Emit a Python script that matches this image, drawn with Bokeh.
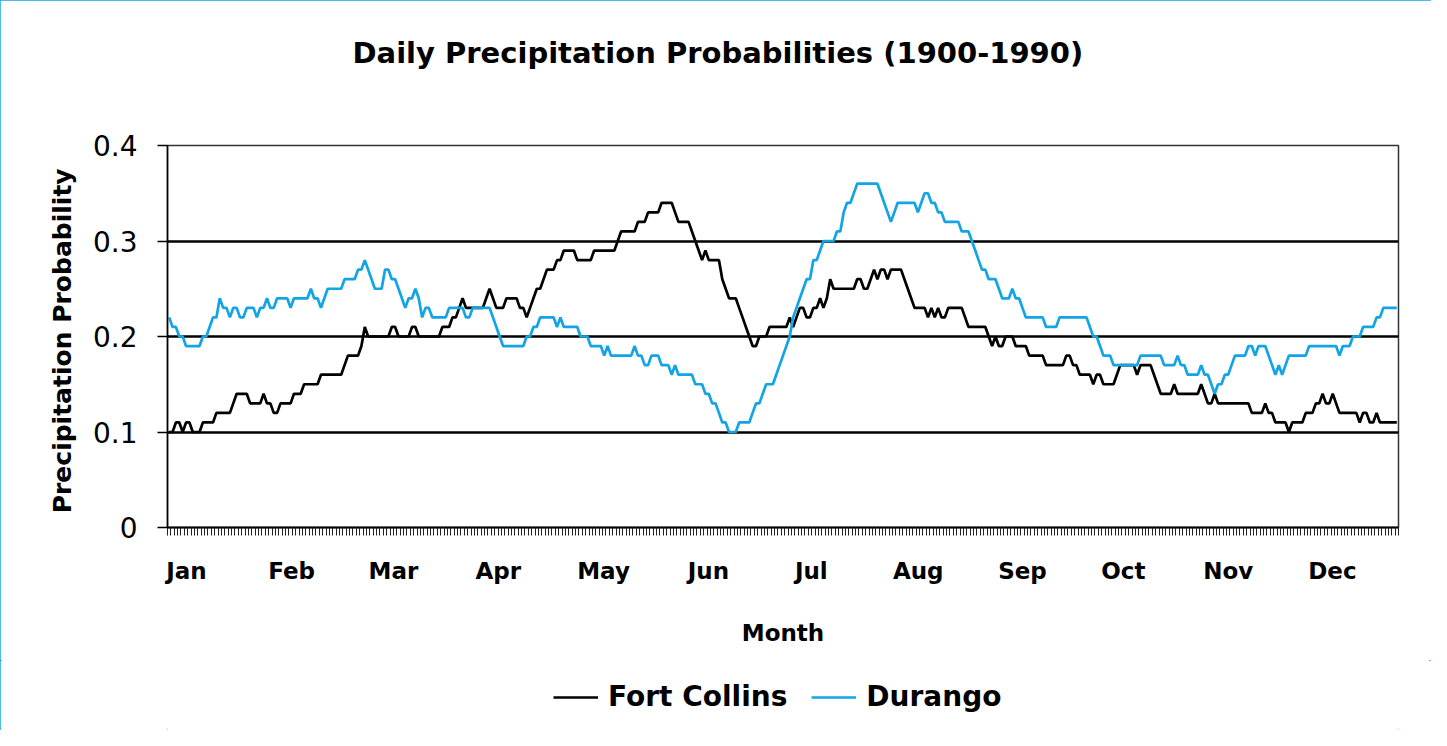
from bokeh.plotting import figure
from bokeh.layouts import column
from bokeh.models import (Range1d, FixedTicker, CustomJSTickFormatter, Legend,
                          LegendItem, Title)
from bokeh.embed import file_html
from bokeh.resources import INLINE

# ---- data (daily values) ----
fort_collins = [
    0.10,0.10,0.11,0.11,0.10,0.11,0.11,0.10,0.10,0.10,
    0.11,0.11,0.11,0.11,0.12,0.12,0.12,0.12,0.12,0.13,
    0.14,0.14,0.14,0.14,0.13,0.13,0.13,0.13,0.14,0.13,
    0.13,0.12,0.12,0.13,0.13,0.13,0.13,0.14,0.14,0.14,
    0.15,0.15,0.15,0.15,0.15,0.16,0.16,0.16,0.16,0.16,
    0.16,0.16,0.17,0.18,0.18,0.18,0.18,0.19,0.21,0.20,
    0.20,0.20,0.20,0.20,0.20,0.20,0.21,0.21,0.20,0.20,
    0.20,0.20,0.21,0.21,0.20,0.20,0.20,0.20,0.20,0.20,
    0.20,0.21,0.21,0.21,0.22,0.22,0.23,0.24,0.23,0.23,
    0.23,0.23,0.23,0.23,0.24,0.25,0.24,0.23,0.23,0.23,
    0.24,0.24,0.24,0.24,0.23,0.23,0.22,0.23,0.24,0.25,
    0.25,0.26,0.27,0.27,0.27,0.28,0.28,0.29,0.29,0.29,
    0.29,0.28,0.28,0.28,0.28,0.28,0.29,0.29,0.29,0.29,
    0.29,0.29,0.29,0.30,0.31,0.31,0.31,0.31,0.31,0.32,
    0.32,0.32,0.33,0.33,0.33,0.33,0.34,0.34,0.34,0.34,
    0.33,0.32,0.32,0.32,0.32,0.31,0.30,0.29,0.28,0.29,
    0.28,0.28,0.28,0.28,0.26,0.25,0.24,0.24,0.24,0.23,
    0.22,0.21,0.20,0.19,0.19,0.20,0.20,0.20,0.21,0.21,
    0.21,0.21,0.21,0.21,0.22,0.21,0.22,0.23,0.23,0.22,
    0.22,0.23,0.23,0.24,0.23,0.24,0.26,0.25,0.25,0.25,
    0.25,0.25,0.25,0.25,0.26,0.26,0.25,0.25,0.26,0.27,
    0.26,0.27,0.27,0.26,0.27,0.27,0.27,0.27,0.26,0.25,
    0.24,0.23,0.23,0.23,0.23,0.22,0.23,0.22,0.23,0.22,
    0.22,0.23,0.23,0.23,0.23,0.23,0.22,0.21,0.21,0.21,
    0.21,0.21,0.21,0.20,0.19,0.20,0.19,0.19,0.20,0.20,
    0.20,0.19,0.19,0.19,0.19,0.18,0.18,0.18,0.18,0.18,
    0.17,0.17,0.17,0.17,0.17,0.17,0.18,0.18,0.17,0.17,
    0.16,0.16,0.16,0.16,0.15,0.16,0.16,0.15,0.15,0.15,
    0.15,0.16,0.17,0.17,0.17,0.17,0.17,0.16,0.17,0.17,
    0.17,0.17,0.16,0.15,0.14,0.14,0.14,0.14,0.15,0.14,
    0.14,0.14,0.14,0.14,0.14,0.14,0.15,0.14,0.13,0.13,
    0.14,0.13,0.13,0.13,0.13,0.13,0.13,0.13,0.13,0.13,
    0.13,0.12,0.12,0.12,0.12,0.13,0.12,0.12,0.11,0.11,
    0.11,0.11,0.10,0.11,0.11,0.11,0.11,0.12,0.12,0.12,
    0.13,0.13,0.14,0.13,0.13,0.14,0.13,0.12,0.12,0.12,
    0.12,0.12,0.12,0.11,0.12,0.12,0.11,0.11,0.12,0.11,
    0.11,0.11,0.11,0.11,0.11,
]

durango = [
    0.22,0.21,0.21,0.20,0.20,0.19,0.19,0.19,0.19,0.19,
    0.20,0.20,0.21,0.22,0.22,0.24,0.23,0.23,0.22,0.23,
    0.23,0.22,0.22,0.23,0.23,0.23,0.22,0.23,0.23,0.24,
    0.23,0.23,0.24,0.24,0.24,0.24,0.23,0.24,0.24,0.24,
    0.24,0.24,0.25,0.24,0.24,0.23,0.24,0.25,0.25,0.25,
    0.25,0.25,0.26,0.26,0.26,0.26,0.27,0.27,0.28,0.27,
    0.26,0.25,0.25,0.25,0.27,0.27,0.26,0.26,0.25,0.24,
    0.23,0.24,0.24,0.25,0.24,0.22,0.23,0.23,0.22,0.22,
    0.22,0.22,0.22,0.23,0.23,0.23,0.23,0.23,0.22,0.22,
    0.23,0.23,0.23,0.23,0.23,0.23,0.22,0.21,0.20,0.19,
    0.19,0.19,0.19,0.19,0.19,0.19,0.20,0.20,0.21,0.21,
    0.22,0.22,0.22,0.22,0.22,0.21,0.22,0.21,0.21,0.21,
    0.21,0.21,0.20,0.20,0.20,0.19,0.19,0.19,0.19,0.18,
    0.19,0.18,0.18,0.18,0.18,0.18,0.18,0.18,0.19,0.18,
    0.18,0.17,0.17,0.18,0.18,0.18,0.17,0.17,0.17,0.16,
    0.17,0.16,0.16,0.16,0.16,0.16,0.15,0.15,0.15,0.14,
    0.14,0.13,0.13,0.12,0.11,0.11,0.10,0.10,0.10,0.11,
    0.11,0.11,0.11,0.12,0.13,0.13,0.14,0.15,0.15,0.15,
    0.16,0.17,0.18,0.19,0.20,0.22,0.23,0.24,0.25,0.26,
    0.26,0.28,0.28,0.29,0.30,0.30,0.30,0.30,0.31,0.31,
    0.33,0.34,0.34,0.35,0.36,0.36,0.36,0.36,0.36,0.36,
    0.36,0.35,0.34,0.33,0.32,0.33,0.34,0.34,0.34,0.34,
    0.34,0.34,0.33,0.34,0.35,0.35,0.34,0.34,0.33,0.33,
    0.32,0.32,0.32,0.32,0.32,0.31,0.31,0.31,0.30,0.29,
    0.28,0.27,0.27,0.26,0.26,0.26,0.25,0.24,0.24,0.24,
    0.25,0.24,0.24,0.23,0.22,0.22,0.22,0.22,0.22,0.22,
    0.21,0.21,0.21,0.21,0.22,0.22,0.22,0.22,0.22,0.22,
    0.22,0.22,0.22,0.21,0.20,0.20,0.19,0.18,0.18,0.18,
    0.17,0.17,0.17,0.17,0.17,0.17,0.17,0.17,0.18,0.18,
    0.18,0.18,0.18,0.18,0.18,0.17,0.17,0.17,0.17,0.18,
    0.17,0.17,0.16,0.16,0.16,0.16,0.17,0.16,0.16,0.15,
    0.14,0.15,0.15,0.16,0.16,0.17,0.18,0.18,0.18,0.18,
    0.19,0.19,0.18,0.19,0.19,0.19,0.18,0.17,0.16,0.17,
    0.16,0.17,0.18,0.18,0.18,0.18,0.18,0.18,0.19,0.19,
    0.19,0.19,0.19,0.19,0.19,0.19,0.19,0.18,0.19,0.19,
    0.19,0.20,0.20,0.20,0.21,0.21,0.21,0.21,0.22,0.22,
    0.23,0.23,0.23,0.23,0.23,
]

months = ["Jan", "Feb", "Mar", "Apr", "May", "Jun",
          "Jul", "Aug", "Sep", "Oct", "Nov", "Dec"]
month_label_pos = [5.6, 36.8, 67.0, 98.1, 129.3, 160.4,
                   190.9, 222.6, 253.5, 283.4, 314.5, 345.4]
y_ticks = [0, 0.1, 0.2, 0.3, 0.4]
series_names = ["Fort Collins", "Durango"]
n_days = 365

BLUE = "#12a4e4"
FONT = "DejaVu Sans"
W = 1431

p = figure(width=W, height=660, output_backend="svg", toolbar_location=None,
           title=None,
           x_range=Range1d(0, n_days), y_range=Range1d(0, 0.4),
           min_border_left=167, min_border_right=33, min_border_top=145,
           min_border_bottom=133)
p.background_fill_color = "white"
p.border_fill_color = "white"
p.outline_line_color = "#333333"
p.outline_line_width = 1.5

x_fc = [i + 0.5 for i in range(len(fort_collins))]
x_du = [i + 0.5 for i in range(len(durango))]
p.line(x_fc, fort_collins, line_color="black", line_width=2.7)
p.line(x_du, durango, line_color=BLUE, line_width=2.7)

# grid
p.xgrid.visible = False
p.ygrid.ticker = FixedTicker(ticks=[0.1, 0.2, 0.3, 0.4])
p.ygrid.grid_line_color = "black"
p.ygrid.grid_line_width = 2.5
p.ygrid.level = "underlay"

# x axis
xa = p.xaxis[0]
xa.ticker = FixedTicker(ticks=month_label_pos, minor_ticks=list(range(n_days + 1)))
xa.major_label_overrides = {pos: m for pos, m in zip(month_label_pos, months)}
xa.major_tick_line_color = None
xa.major_tick_out = 0
xa.major_tick_in = 0
xa.minor_tick_out = 8
xa.minor_tick_in = 0
xa.minor_tick_line_color = "#222222"
xa.minor_tick_line_width = 1
xa.axis_line_width = 2
xa.axis_line_color = "black"
xa.major_label_text_font = FONT
xa.major_label_text_font_style = "bold"
xa.major_label_text_font_size = "23px"
xa.major_label_text_color = "black"
xa.major_label_standoff = 22
xa.axis_label = "Month"
xa.axis_label_text_font = FONT
xa.axis_label_text_font_style = "bold"
xa.axis_label_text_font_size = "23px"
xa.axis_label_text_color = "black"
xa.axis_label_standoff = 33

# y axis
ya = p.yaxis[0]
ya.ticker = FixedTicker(ticks=y_ticks)
ya.formatter = CustomJSTickFormatter(code="return tick === 0 ? '0' : tick.toFixed(1);")
ya.major_tick_out = 10
ya.major_tick_in = 0
ya.major_tick_line_width = 1.5
ya.major_tick_line_color = "black"
ya.minor_tick_line_color = None
ya.axis_line_width = 1.5
ya.axis_line_color = "black"
ya.major_label_text_font = FONT
ya.major_label_text_font_size = "28px"
ya.major_label_text_color = "black"
ya.major_label_standoff = 20
ya.axis_label = "Precipitation  Probability"
ya.axis_label_text_font = FONT
ya.axis_label_text_font_style = "bold"
ya.axis_label_text_font_size = "25px"
ya.axis_label_text_color = "black"
ya.axis_label_standoff = 13

# title: a blank spacer title next to the frame, then the real title above it
p.add_layout(Title(text=" ", text_font=FONT, text_font_size="28px", standoff=36), "above")
p.add_layout(Title(text="Daily Precipitation Probabilities (1900-1990)",
                   text_font=FONT, text_font_style="bold", text_font_size="29px",
                   text_color="black", align="left", offset=185, standoff=10), "above")

# legend strip (separate small figure under the chart). The series are drawn
# again here only so the legend has real renderers; its ranges keep them out of view.
pl = figure(width=W, height=70, output_backend="svg", toolbar_location=None,
            title=None, x_axis_type=None, y_axis_type=None,
            x_range=Range1d(-20, -10), y_range=Range1d(0, 0.4),
            min_border_left=0, min_border_right=0, min_border_top=0,
            min_border_bottom=0)
pl.outline_line_color = None
pl.background_fill_color = "white"
pl.border_fill_color = "white"
lr_fc = pl.line(x_fc, fort_collins, line_color="black", line_width=2.7)
lr_du = pl.line(x_du, durango, line_color=BLUE, line_width=2.7)
legend = Legend(items=[LegendItem(label=series_names[0], renderers=[lr_fc]),
                       LegendItem(label=series_names[1], renderers=[lr_du])],
                location=(386, 17), orientation="horizontal",
                padding=0, margin=0, spacing=24,
                glyph_width=45, glyph_height=32, label_height=32,
                label_standoff=10, border_line_alpha=0, background_fill_alpha=0,
                label_text_font=FONT, label_text_font_style="bold",
                label_text_font_size="28px", label_text_color="black")
pl.add_layout(legend, "center")

layout = column(p, pl, spacing=0,
                styles={"outline": f"2px solid {BLUE}", "outline-offset": "-2px"})

open("out.html", "w").write(file_html(layout, INLINE))
